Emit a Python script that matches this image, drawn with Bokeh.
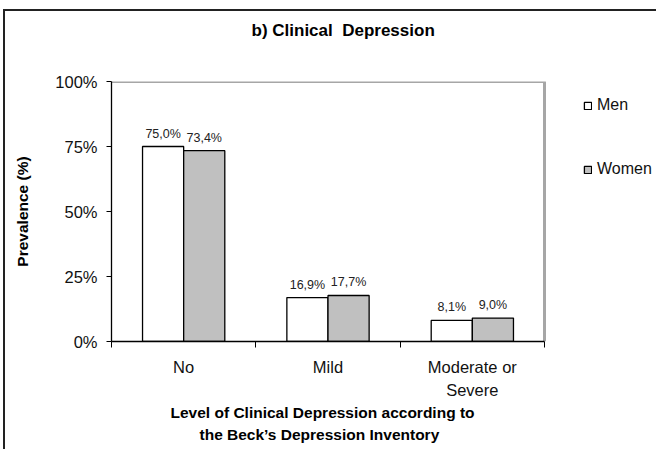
from bokeh.plotting import figure
from bokeh.models import (Range1d, FixedTicker, PrintfTickFormatter, Legend,
                          LegendItem, ColumnDataSource, LinearAxis, Title)
from bokeh.layouts import column
from bokeh.embed import file_html
from bokeh.resources import INLINE
from bokeh.core.properties import value

# ---------------- data ----------------
categories = ["No", "Mild", "Moderate or\nSevere"]
men = [75.0, 16.9, 8.1]
women = [73.4, 17.7, 9.0]
series_names = ["Men", "Women"]
y_ticks = [0, 25, 50, 75, 100]
title_text = "b) Clinical\u00a0 Depression"
y_title = "Prevalence (%)"
x_title_lines = ["Level of Clinical Depression according to",
                 "the Beck\u2019s Depression Inventory"]

# ---------------- layout / style ----------------
FONT = "Liberation Sans"
OX, OY = 5, 11            # figure offset on the page (inside the outer frame)
W, H = 656 - OX, 449 - OY
PL, PR, FT, FB = 111 - OX, 544 - OX, 81 - OY, 341 - OY  # plot-area edges (figure px)
n = len(categories)
x_end = n * (W - PL) / (PR - PL)   # frame runs to the right edge (legend lives there)
HAS_STANDOFF = "standoff" in Title.properties()

def fmt(v):
    return f"{v:.1f}%".replace(".", ",")

centers = [i + 0.5 for i in range(n)]
bw = 0.285
off = 0.1425

src = ColumnDataSource(dict(
    x_m=[c - off for c in centers],
    x_w=[c + off for c in centers],
    men=men, women=women,
    lab_m=[fmt(v) for v in men],
    lab_w=[fmt(v) for v in women],
))

p = figure(width=W, height=H, output_backend="svg", toolbar_location=None,
           title=None,
           x_range=Range1d(0, x_end), y_range=Range1d(0, max(y_ticks)),
           min_border_left=PL, min_border_right=0,
           min_border_top=FT, min_border_bottom=H - FB)
p.background_fill_color = "white"
p.border_fill_color = "white"
p.outline_line_color = None
p.xgrid.visible = False
p.ygrid.visible = False

xa = p.below[0]
ya = p.left[0]

# grey plot-area border (top and right)
p.line(x=[0, n, n], y=[max(y_ticks), max(y_ticks), 0], line_color="#a6a6a6", line_width=3)

rm = p.vbar(x="x_m", top="men", bottom=0, width=bw, source=src,
            fill_color="white", line_color="black", line_width=1.3)
rw = p.vbar(x="x_w", top="women", bottom=0, width=bw, source=src,
            fill_color="#c0c0c0", line_color="black", line_width=1.3)

for xcol, ycol, tcol in (("x_m", "men", "lab_m"), ("x_w", "women", "lab_w")):
    p.text(x=xcol, y=ycol, text=tcol, source=src, text_align="center",
           text_baseline="bottom", y_offset=-6, text_font=value(FONT),
           text_font_size="12.5px", text_color="#222222")

# x axis
xa.bounds = (0, n)
xa.ticker = FixedTicker(ticks=centers, minor_ticks=list(range(n + 1)))
xa.major_label_overrides = {c: lab for c, lab in zip(centers, categories)}
xa.major_tick_line_color = None
xa.major_tick_out = 5
xa.major_tick_in = 0
xa.minor_tick_out = 6
xa.minor_tick_in = 0
xa.minor_tick_line_color = "black"
xa.axis_line_color = "black"
xa.axis_line_width = 1.3
xa.major_label_text_font = FONT
xa.major_label_text_font_size = "16.5px"
xa.major_label_text_color = "#111111"
xa.major_label_text_line_height = 1.3
xa.major_label_standoff = 10

# x axis title: two lines, stacked below the axis
x_offsets = [170 - 111, 199 - 111]
for line, xo in zip(x_title_lines, x_offsets):
    kw = dict(text=line, align="left", offset=xo, vertical_align="middle",
              text_font=FONT, text_font_style="bold", text_font_size="15.5px",
              text_color="black")
    if HAS_STANDOFF:
        kw["standoff"] = 3
    p.add_layout(Title(**kw), "below")

# y axis
ya.ticker = FixedTicker(ticks=y_ticks)
ya.formatter = PrintfTickFormatter(format="%d%%")
ya.major_tick_out = 5
ya.major_tick_in = 0
ya.minor_tick_line_color = None
ya.axis_line_color = "black"
ya.axis_line_width = 1.3
ya.major_tick_line_color = "black"
ya.major_label_text_font = FONT
ya.major_label_text_font_size = "16.5px"
ya.major_label_text_color = "#111111"
ya.major_label_standoff = 9
ya.axis_label = y_title
ya.axis_label_text_font = FONT
ya.axis_label_text_font_style = "bold"
ya.axis_label_text_font_size = "15.5px"
ya.axis_label_text_color = "black"
ya.axis_label_standoff = 21

# title (pushed up by an invisible spacer between it and the frame)
spacer = LinearAxis(ticker=FixedTicker(ticks=[]), axis_line_color=None,
                    major_tick_out=0, major_tick_in=0,
                    major_tick_line_color=None, minor_tick_line_color=None,
                    major_label_standoff=0, major_label_text_alpha=0,
                    axis_label="\u00a0", axis_label_text_font_size="10px",
                    axis_label_text_color="white", axis_label_standoff=23)
p.add_layout(spacer, "above")
p.add_layout(Title(text=title_text, align="left", offset=251 - 111,
                   text_font=FONT, text_font_style="bold", text_font_size="17px",
                   text_color="black"), "above")

# legend (inside the frame, to the right of the plot area)
legend = Legend(items=[LegendItem(label=series_names[0], renderers=[rm]),
                       LegendItem(label=series_names[1], renderers=[rw])],
                location=(583 - 111, 341 - 179), orientation="vertical",
                glyph_width=9, glyph_height=9, label_height=20, label_standoff=5,
                spacing=44, padding=0, margin=0,
                border_line_color=None, background_fill_alpha=0,
                label_text_font=FONT, label_text_font_size="16px",
                label_text_color="#111111")
p.add_layout(legend)

# outer chart frame (top and left edges visible)
layout = column(p, margin=(OY - 2, 0, 0, OX - 2),
                styles={"border-top": "2px solid #222222",
                        "border-left": "2px solid #222222"})

open("out.html", "w").write(file_html(layout, INLINE))
